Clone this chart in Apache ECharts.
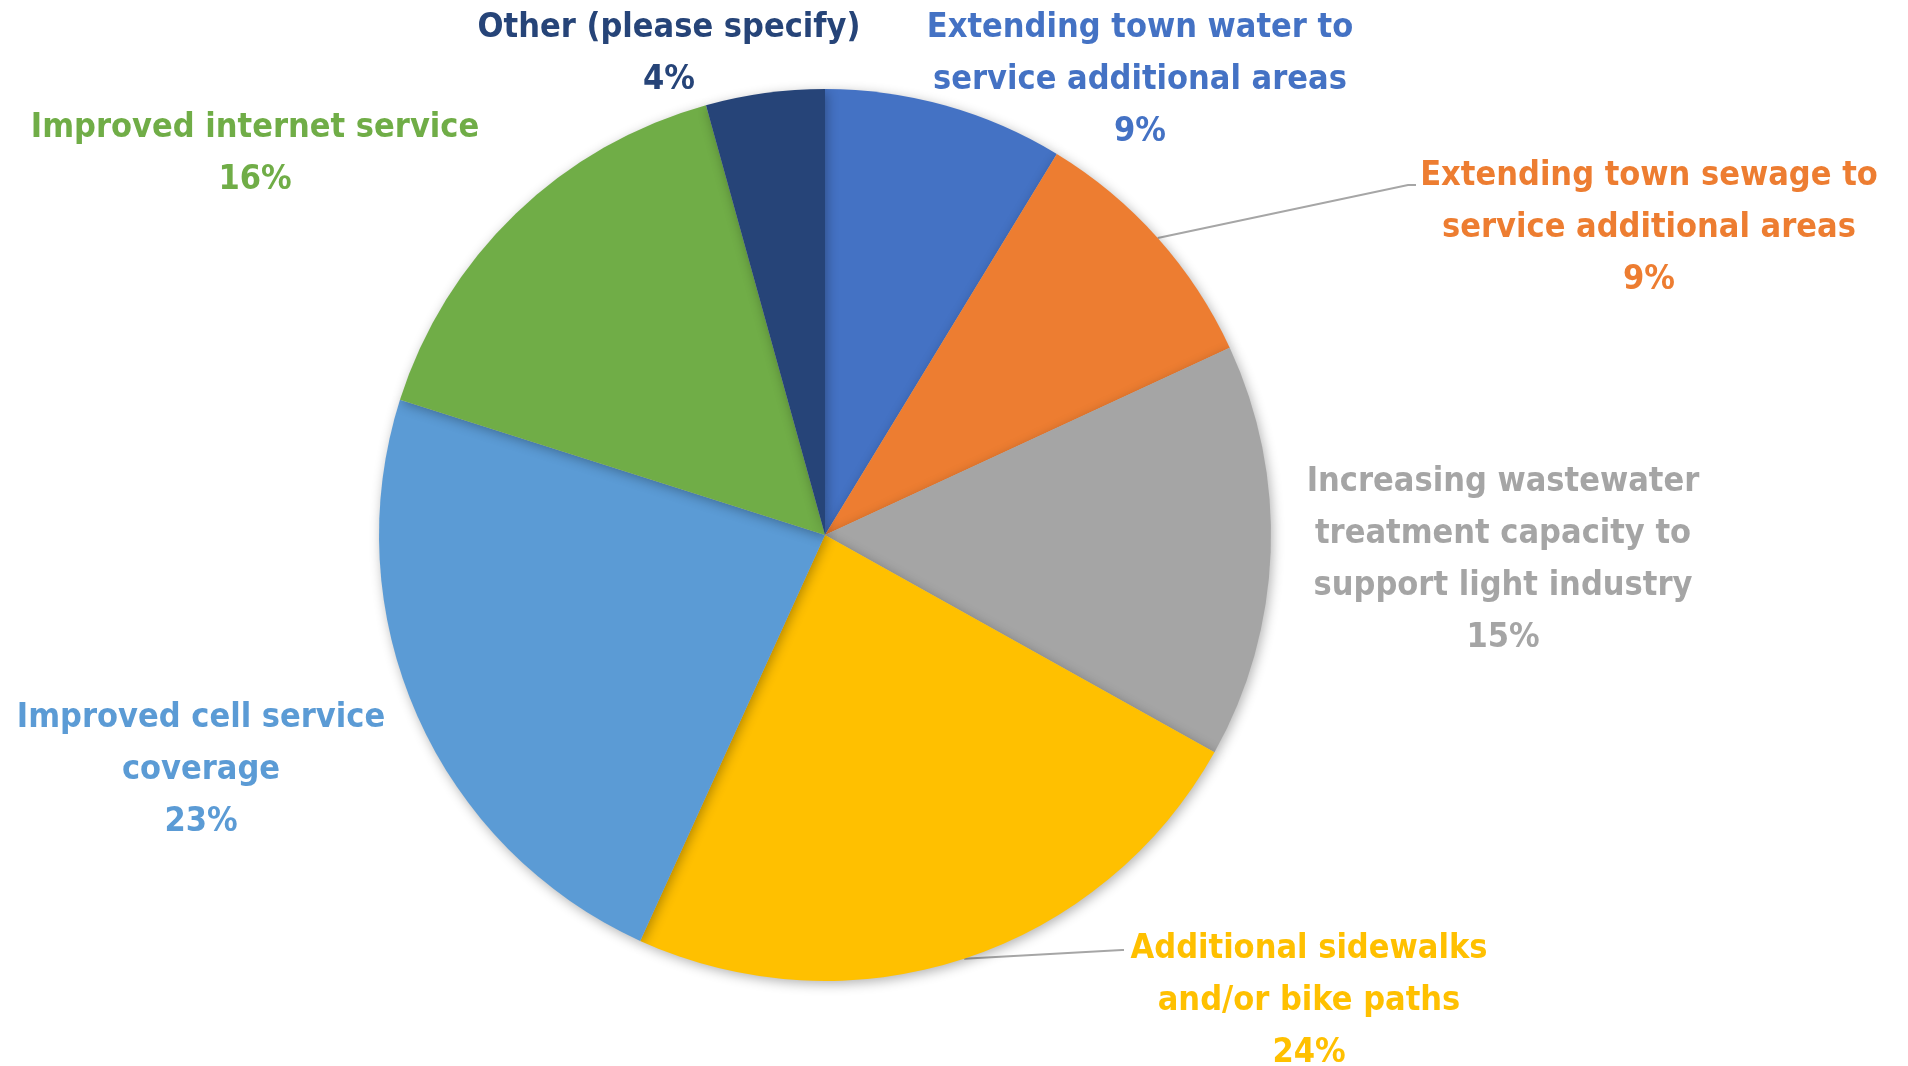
<!DOCTYPE html>
<html>
<head>
<meta charset="utf-8">
<script src="https://cdn.jsdelivr.net/npm/echarts@6/dist/echarts.min.js"></script>
<style>html,body{margin:0;padding:0;background:#fff;}#c{width:1908px;height:1066px;}</style>
</head>
<body>
<div id="c"></div>
<script>
const categories = [
  'Extending town water to\nservice additional areas',
  'Extending town sewage to\nservice additional areas',
  'Increasing wastewater\ntreatment capacity to\nsupport light industry',
  'Additional sidewalks\nand/or bike paths',
  'Improved cell service\ncoverage',
  'Improved internet service',
  'Other (please specify)'
];
const values = [8.7, 9.4, 15.0, 23.7, 23.1, 15.8, 4.3];
const colors = ['#4472C4', '#ED7D31', '#A5A5A5', '#FFC000', '#5B9BD5', '#70AD47', '#264478'];

// label block centres (layout only)
const labelPos = [[1140, 80], [1649, 228], [1503, 560], [1309, 1001], [201, 770], [255, 154], [669, 54]];
const lineEnds = {1: [[1408, 185], [1416, 185]], 3: [[1122, 950], [1124, 950]]};

const chart = echarts.init(document.getElementById('c'), null, {renderer: 'canvas'});
chart.setOption({
  backgroundColor: '#ffffff',
  animation: false,
  series: [{
    type: 'pie',
    center: [825, 535],
    radius: 446,
    startAngle: 90,
    clockwise: true,
    percentPrecision: 0,
    data: categories.map((n, i) => ({
      name: n, value: values[i],
      itemStyle: {color: colors[i]},
      label: {color: colors[i]},
      labelLine: {show: i === 1 || i === 3}
    })),
    itemStyle: {shadowBlur: 12, shadowColor: 'rgba(0,0,0,0.3)', shadowOffsetX: 2, shadowOffsetY: 3},
    label: {
      show: true,
      position: 'outside',
      formatter: '{b}\n{d}%',
      fontFamily: 'Liberation Sans Narrow, DejaVu Sans Condensed, Roboto, sans-serif',
      fontWeight: 'bold',
      fontSize: 34,
      lineHeight: 52,
      align: 'center'
    },
    labelLine: {lineStyle: {color: '#A6A6A6', width: 2}, length: 10, length2: 10},
    labelLayout: function (p) {
      const i = p.dataIndex;
      const r = {x: labelPos[i][0], y: labelPos[i][1], align: 'center', verticalAlign: 'middle', hideOverlap: false, moveOverlap: false};
      if (lineEnds[i] && p.labelLinePoints) {
        r.labelLinePoints = [p.labelLinePoints[0], lineEnds[i][0], lineEnds[i][1]];
      }
      return r;
    }
  }]
});
</script>
</body>
</html>
